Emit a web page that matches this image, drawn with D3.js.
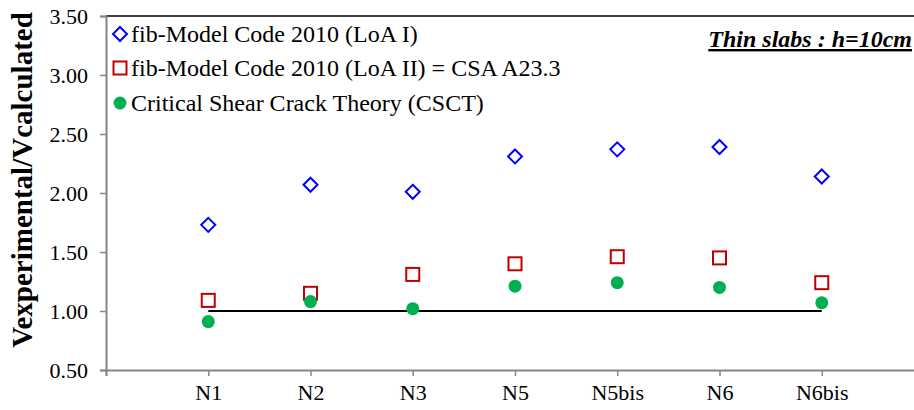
<!DOCTYPE html>
<head><style>body { margin: 0; } svg { background-color: #fff; display: block; }</style></head>
<body>
    <div class="container"></div>
    <script src="https://d3js.org/d3.v7.min.js"></script>
    <script>
        // data
        var slabs = ['N1', 'N2', 'N3', 'N5', 'N5bis', 'N6', 'N6bis'];
        var loa1 = [1.73, 2.07, 2.01, 2.31, 2.37, 2.39, 2.14];
        var loa2 = [1.09, 1.15, 1.31, 1.40, 1.46, 1.45, 1.24];
        var csct = [0.91, 1.08, 1.02, 1.21, 1.24, 1.20, 1.07];
        var yticks = [0.5, 1.0, 1.5, 2.0, 2.5, 3.0, 3.5];
        var legendNames = ['fib-Model Code 2010 (LoA I)',
                           'fib-Model Code 2010 (LoA II) = CSA A23.3',
                           'Critical Shear Crack Theory (CSCT)'];

        var serif = '"Liberation Serif", "Times New Roman", serif';

        var svg = d3.select('.container')
                    .append('svg')
                    .attr('width', 914)
                    .attr('height', 410);

        // slots 0..8, categories sit at 1..7
        var xscale = d3.scaleLinear().domain([0, 8]).range([106, 924]);
        var yscale = d3.scaleLinear().domain([0.5, 3.5]).range([370, 16]);

        // top border of the plot area
        svg.append('line')
           .attr('x1', 106).attr('x2', 914)
           .attr('y1', yscale(3.5)).attr('y2', yscale(3.5))
           .attr('stroke', '#000').attr('stroke-width', 1.5);

        // y axis
        var yaxis = d3.axisLeft(yscale)
                      .tickValues(yticks)
                      .tickSize(6)
                      .tickPadding(12)
                      .tickFormat(d3.format('.2f'));
        var gy = svg.append('g')
                    .attr('transform', 'translate(' + xscale(0) + ',0)')
                    .call(yaxis);
        gy.select('.domain').attr('stroke', '#868686').attr('stroke-width', 2);
        gy.selectAll('.tick line').attr('stroke', '#868686').attr('stroke-width', 1.5);
        gy.selectAll('.tick text')
          .style('font-family', serif).style('font-size', '22px').attr('fill', '#000');

        // x axis
        var xaxis = d3.axisBottom(xscale)
                      .tickValues(d3.range(0, 9))
                      .tickSize(6)
                      .tickPadding(8)
                      .tickFormat(function(d) { return slabs[d - 1] || ''; });
        var gx = svg.append('g')
                    .attr('transform', 'translate(0,' + yscale(0.5) + ')')
                    .call(xaxis);
        gx.select('.domain').attr('stroke', '#868686').attr('stroke-width', 2);
        gx.selectAll('.tick line').attr('stroke', '#868686').attr('stroke-width', 1.5);
        gx.selectAll('.tick text')
          .style('font-family', serif).style('font-size', '22px').attr('fill', '#000');

        // y axis title
        svg.append('text')
           .attr('transform', 'translate(22,180) rotate(-90)')
           .attr('text-anchor', 'middle')
           .attr('dy', '0.35em')
           .style('font-family', serif)
           .style('font-weight', 'bold')
           .style('font-size', '29px')
           .text('Vexperimental/Vcalculated');

        // reference line at 1.0
        svg.append('line')
           .attr('x1', xscale(1)).attr('x2', xscale(slabs.length))
           .attr('y1', yscale(1)).attr('y2', yscale(1))
           .attr('stroke', '#000').attr('stroke-width', 2);

        function diamond(g, cx, cy) {
            var r = 7;
            g.append('path')
             .attr('d', 'M' + cx + ',' + (cy - r) + 'L' + (cx + r) + ',' + cy +
                        'L' + cx + ',' + (cy + r) + 'L' + (cx - r) + ',' + cy + 'Z')
             .attr('fill', '#fff').attr('stroke', '#0000ff').attr('stroke-width', 2);
        }
        function square(g, cx, cy) {
            g.append('rect')
             .attr('x', cx - 6.5).attr('y', cy - 6.5)
             .attr('width', 13).attr('height', 13)
             .attr('fill', '#fff').attr('stroke', '#c00000').attr('stroke-width', 2);
        }
        function dot(g, cx, cy) {
            g.append('circle')
             .attr('cx', cx).attr('cy', cy).attr('r', 6.5)
             .attr('fill', '#00b050');
        }

        var marks = svg.append('g');
        slabs.forEach(function(s, i) {
            diamond(marks, xscale(i + 1), yscale(loa1[i]));
        });
        slabs.forEach(function(s, i) {
            square(marks, xscale(i + 1), yscale(loa2[i]));
        });
        slabs.forEach(function(s, i) {
            dot(marks, xscale(i + 1), yscale(csct[i]));
        });

        // legend
        var legend = svg.append('g');
        var markers = [diamond, square, dot];
        var rows = [34, 68, 103];
        legendNames.forEach(function(name, i) {
            markers[i](legend, 120, rows[i]);
            legend.append('text')
                  .attr('x', 131).attr('y', rows[i])
                  .attr('dy', '0.33em')
                  .style('font-family', serif)
                  .style('font-size', '24px')
                  .text(name);
        });

        // annotation
        svg.append('text')
           .attr('x', 912).attr('y', 47)
           .attr('text-anchor', 'end')
           .style('font-family', serif)
           .style('font-weight', 'bold')
           .style('font-style', 'italic')
           .style('text-decoration', 'underline')
           .style('font-size', '24px')
           .text('Thin slabs : h=10cm');
    </script>
</body>
